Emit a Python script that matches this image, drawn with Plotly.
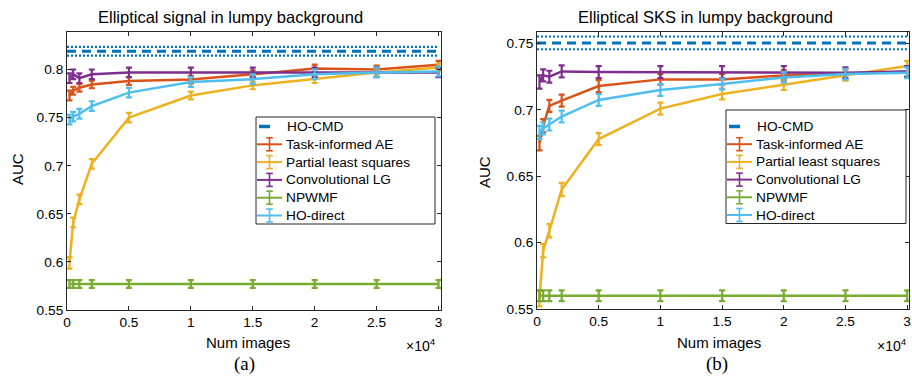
import plotly.graph_objects as go

# ---------------- data ----------------
num_images = [200, 500, 1000, 2000, 5000, 10000, 15000, 20000, 25000, 30000]
x_tickvals = [0, 5000, 10000, 15000, 20000, 25000, 30000]
x_ticktext = ["0", "0.5", "1", "1.5", "2", "2.5", "3"]

series_names = ["Task-informed AE", "Partial least squares", "Convolutional LG", "NPWMF", "HO-direct"]
series_colors = ["#D95319", "#EDB120", "#7E2F8E", "#77AC30", "#4DBEEE"]
hocmd_name = "HO-CMD"
hocmd_color = "#0072BD"

# Panel (a): Elliptical signal in lumpy background
tiae_a = [0.773, 0.778, 0.781, 0.7845, 0.788, 0.7895, 0.795, 0.801, 0.800, 0.805]
pls_a = [0.599, 0.641, 0.665, 0.702, 0.750, 0.773, 0.7835, 0.790, 0.797, 0.802]
clg_a = [0.791, 0.795, 0.791, 0.795, 0.797, 0.797, 0.797, 0.797, 0.797, 0.797]
npwmf_a = [0.577, 0.577, 0.577, 0.577, 0.577, 0.577, 0.577, 0.577, 0.577, 0.577]
hod_a = [0.748, 0.751, 0.754, 0.762, 0.776, 0.787, 0.790, 0.795, 0.797, 0.798]
err_tiae_a = [0.005, 0.004, 0.004, 0.004, 0.004, 0.004, 0.004, 0.004, 0.004, 0.004]
err_pls_a = [0.006, 0.005, 0.005, 0.005, 0.005, 0.004, 0.004, 0.004, 0.004, 0.004]
err_clg_a = [0.005, 0.005, 0.005, 0.005, 0.005, 0.005, 0.005, 0.005, 0.005, 0.005]
err_npwmf_a = [0.004, 0.004, 0.004, 0.004, 0.004, 0.004, 0.004, 0.004, 0.004, 0.004]
err_hod_a = [0.005, 0.005, 0.005, 0.005, 0.005, 0.005, 0.005, 0.005, 0.005, 0.005]
hocmd_a = 0.819
hocmd_std_a = 0.0045
yticks_a = [0.55, 0.6, 0.65, 0.7, 0.75, 0.8]
yticktext_a = ["0.55", "0.6", "0.65", "0.7", "0.75", "0.8"]

# Panel (b): Elliptical SKS in lumpy background
tiae_b = [0.675, 0.688, 0.703, 0.707, 0.718, 0.723, 0.723, 0.726, 0.727, 0.729]
pls_b = [0.558, 0.594, 0.609, 0.640, 0.678, 0.701, 0.712, 0.719, 0.726, 0.733]
clg_b = [0.721, 0.726, 0.725, 0.729, 0.7285, 0.7285, 0.7285, 0.7285, 0.728, 0.729]
npwmf_b = [0.560, 0.560, 0.560, 0.560, 0.560, 0.560, 0.560, 0.560, 0.560, 0.560]
hod_b = [0.683, 0.686, 0.689, 0.695, 0.7075, 0.715, 0.7195, 0.7245, 0.727, 0.728]
err_tiae_b = [0.0055, 0.005, 0.0045, 0.0045, 0.0045, 0.004, 0.004, 0.004, 0.004, 0.004]
err_pls_b = [0.006, 0.005, 0.005, 0.005, 0.0045, 0.0045, 0.004, 0.004, 0.004, 0.004]
err_clg_b = [0.005, 0.0045, 0.0045, 0.0045, 0.0045, 0.0045, 0.0045, 0.0045, 0.004, 0.004]
err_npwmf_b = [0.004, 0.004, 0.004, 0.004, 0.004, 0.004, 0.004, 0.004, 0.004, 0.004]
err_hod_b = [0.005, 0.0045, 0.0045, 0.0045, 0.0045, 0.0045, 0.004, 0.004, 0.004, 0.004]
hocmd_b = 0.7505
hocmd_std_b = 0.0048
yticks_b = [0.55, 0.6, 0.65, 0.7, 0.75]
yticktext_b = ["0.55", "0.6", "0.65", "0.7", "0.75"]

# ---------------- figure ----------------
FONT = "Liberation Sans, Arial, Helvetica, sans-serif"
SERIF = "Liberation Serif, Times New Roman, serif"
W, H = 912, 379
fig = go.Figure()

panels = [
    dict(xa="x", ya="y",
         series=[tiae_a, pls_a, clg_a, npwmf_a, hod_a],
         errs=[err_tiae_a, err_pls_a, err_clg_a, err_npwmf_a, err_hod_a],
         hocmd=hocmd_a, hocmd_std=hocmd_std_a,
         # legend layout in pixels: box, first row y, row step, sample x-range, text x
         leg=dict(x0=256, y0=117, x1=435, y1=224, row0=126.5, dy=17.8, lx0=257, lx1=282, tx=284)),
    dict(xa="x2", ya="y2",
         series=[tiae_b, pls_b, clg_b, npwmf_b, hod_b],
         errs=[err_tiae_b, err_pls_b, err_clg_b, err_npwmf_b, err_hod_b],
         hocmd=hocmd_b, hocmd_std=hocmd_std_b,
         leg=dict(x0=726, y0=110, x1=906, y1=223.5, row0=126.5, dy=17.7, lx0=727, lx1=752, tx=754)),
]

x_span = [0, max(num_images)]
for p in panels:
    # HO-CMD mean (dashed) and +/- std (dotted)
    fig.add_trace(go.Scatter(x=x_span, y=[p["hocmd"]] * 2, mode="lines",
                             line=dict(color=hocmd_color, width=3, dash="9px,6px"),
                             xaxis=p["xa"], yaxis=p["ya"], showlegend=False, hoverinfo="skip"))
    for sgn in (1, -1):
        fig.add_trace(go.Scatter(x=x_span, y=[p["hocmd"] + sgn * p["hocmd_std"]] * 2, mode="lines",
                                 line=dict(color=hocmd_color, width=2.2, dash="2px,2px"),
                                 xaxis=p["xa"], yaxis=p["ya"], showlegend=False, hoverinfo="skip"))
    for name, col, ys, es in zip(series_names, series_colors, p["series"], p["errs"]):
        fig.add_trace(go.Scatter(x=num_images, y=ys, mode="lines",
                                 line=dict(color=col, width=2.5),
                                 error_y=dict(type="data", array=es, visible=True,
                                              color=col, thickness=2.2, width=3),
                                 xaxis=p["xa"], yaxis=p["ya"], showlegend=False, name=name))

# ---- MATLAB-style legends drawn in paper space ----
def px(x):
    return x / W


def py(y):
    return 1 - y / H


for p in panels:
    L = p["leg"]
    fig.add_shape(type="rect", xref="paper", yref="paper",
                  x0=px(L["x0"]), x1=px(L["x1"]), y0=py(L["y1"]), y1=py(L["y0"]),
                  line=dict(color="#262626", width=1), fillcolor="white", layer="above")
    names = [hocmd_name] + series_names
    colors = [hocmd_color] + series_colors
    for i, (nm, col) in enumerate(zip(names, colors)):
        yy = L["row0"] + i * L["dy"]
        if i == 0:
            fig.add_shape(type="line", xref="paper", yref="paper",
                          x0=px(L["lx0"] + 2), x1=px(L["lx0"] + 13), y0=py(yy), y1=py(yy),
                          line=dict(color=col, width=3.5), layer="above")
        else:
            cx = (L["lx0"] + L["lx1"]) / 2
            fig.add_shape(type="line", xref="paper", yref="paper",
                          x0=px(L["lx0"]), x1=px(L["lx1"]), y0=py(yy), y1=py(yy),
                          line=dict(color=col, width=2), layer="above")
            fig.add_shape(type="line", xref="paper", yref="paper",
                          x0=px(cx), x1=px(cx), y0=py(yy - 6.5), y1=py(yy + 6.5),
                          line=dict(color=col, width=1.6), layer="above")
            for cap in (-6.5, 6.5):
                fig.add_shape(type="line", xref="paper", yref="paper",
                              x0=px(cx - 3.3), x1=px(cx + 3.3), y0=py(yy + cap), y1=py(yy + cap),
                              line=dict(color=col, width=1.6), layer="above")
        fig.add_annotation(text=nm, x=px(L["tx"] if i else L["tx"] + 0.5), y=py(yy),
                           xref="paper", yref="paper", showarrow=False,
                           xanchor="left", yanchor="middle",
                           font=dict(family=FONT, size=13.7, color="#000"))

axis_common = dict(showline=True, linecolor="#262626", linewidth=1, mirror="ticks",
                   ticks="inside", ticklen=4, tickcolor="#262626", showgrid=False,
                   zeroline=False, automargin=False,
                   tickfont=dict(family=FONT, size=13.7, color="#000"))

fig.update_layout(
    width=W, height=H,
    margin=dict(l=0, r=0, t=0, b=0),
    paper_bgcolor="white", plot_bgcolor="white",
    font=dict(family=FONT, size=13.7, color="#000"),
    showlegend=False,
    xaxis=dict(domain=[px(67), px(441)], range=[0, 30200], tickvals=x_tickvals, ticktext=x_ticktext,
               anchor="y", **axis_common),
    yaxis=dict(domain=[py(310), py(32)], range=[0.55, 0.839], tickvals=yticks_a,
               ticktext=yticktext_a, anchor="x", **axis_common),
    xaxis2=dict(domain=[px(537), px(909)], range=[0, 30150], tickvals=x_tickvals, ticktext=x_ticktext,
                anchor="y2", **axis_common),
    yaxis2=dict(domain=[py(309), py(32)], range=[0.55, 0.7587], tickvals=yticks_b,
                ticktext=yticktext_b, anchor="x2", **axis_common),
)

annots = [
    dict(text="Elliptical signal in lumpy background", x=230, y=17, size=16.5),
    dict(text="Elliptical SKS in lumpy background", x=705, y=17, size=16.5),
    dict(text="Num images", x=248, y=342, size=15),
    dict(text="Num images", x=719, y=342, size=15),
    dict(text="×10<sup>4</sup>", x=421, y=345, size=14),
    dict(text="×10<sup>4</sup>", x=892, y=345, size=14),
]
for a in annots:
    fig.add_annotation(text=a["text"], x=px(a["x"]), y=py(a["y"]), xref="paper", yref="paper",
                       showarrow=False, xanchor="center", yanchor="middle",
                       font=dict(family=FONT, size=a["size"], color="#000"))
for txt, xx, yy in (("AUC", 18, 169), ("AUC", 485, 172)):
    fig.add_annotation(text=txt, x=px(xx), y=py(yy), xref="paper", yref="paper",
                       showarrow=False, textangle=-90, xanchor="center", yanchor="middle",
                       font=dict(family=FONT, size=15, color="#000"))
for txt, xx in (("(a)", 244), ("(b)", 717)):
    fig.add_annotation(text=txt, x=px(xx), y=py(364), xref="paper", yref="paper",
                       showarrow=False, xanchor="center", yanchor="middle",
                       font=dict(family=SERIF, size=19, color="#000"))

fig.write_html(
    "out.html",
    config={"displayModeBar": False, "staticPlot": True},
    post_script="document.body.style.margin='0';document.body.style.padding='0';"
                "document.body.style.overflow='hidden';",
)
